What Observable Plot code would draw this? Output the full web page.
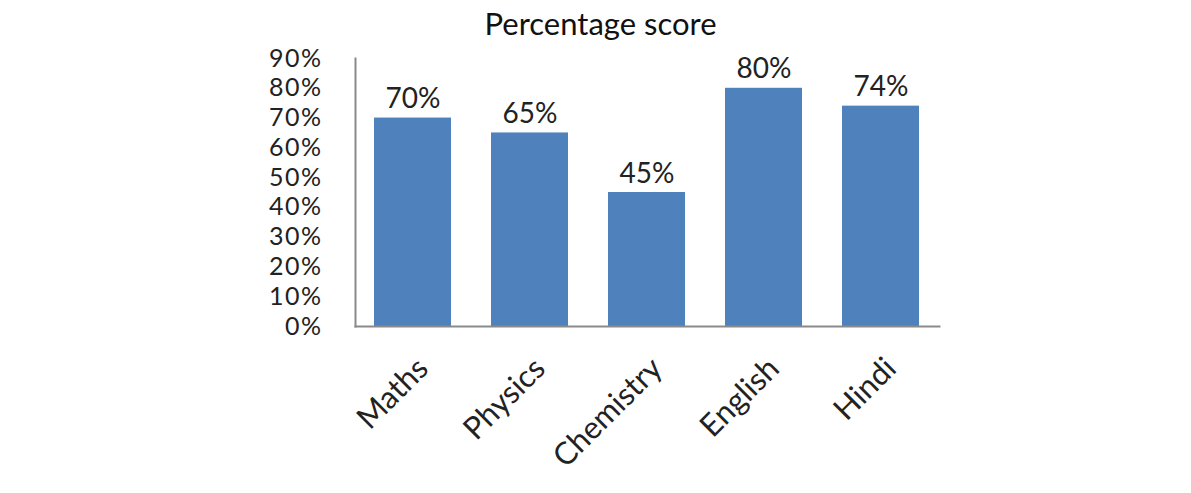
<!DOCTYPE html>
<html>
<head>
<meta charset="utf-8">
<script src="https://cdn.jsdelivr.net/npm/d3@7"></script>
<script src="https://cdn.jsdelivr.net/npm/@observablehq/plot@0.6"></script>
<style>
  html, body { margin: 0; padding: 0; background: #fff; }
  body { width: 1191px; height: 493px; overflow: hidden; font-family: Lato, "Open Sans", sans-serif; }
  #title { height: 40px; line-height: 46px; text-align: center; font-size: 31px; color: #111; padding-left: 10px; }
  .yax text { letter-spacing: 1.5px; }
</style>
</head>
<body>
<div id="title">Percentage score</div>
<div id="chart"></div>
<script>
const subjects = ["Maths", "Physics", "Chemistry", "English", "Hindi"];
const scores = [0.70, 0.65, 0.45, 0.80, 0.74];
const yTicks = [0, 0.1, 0.2, 0.3, 0.4, 0.5, 0.6, 0.7, 0.8, 0.9];

const data = subjects.map((s, i) => ({subject: s, score: scores[i]}));

const chart = Plot.plot({
  width: 1191,
  height: 453,
  marginLeft: 355,
  marginRight: 252,
  marginTop: 18,
  marginBottom: 167,
  style: {fontFamily: "Lato, 'Open Sans', sans-serif", fontSize: "28px", color: "#222", background: "white"},
  x: {domain: subjects, paddingInner: 0.34, paddingOuter: 0.15, label: null},
  y: {domain: [0, 0.9], label: null},
  marks: [
    Plot.barY(data, {x: "subject", y: "score", fill: "#4f81bd"}),
    Plot.text(data, {x: "subject", y: "score", text: d => Math.round(d.score * 100) + "%", dy: -10, lineAnchor: "bottom", fontSize: 28, fill: "#222"}),
    Plot.axisY({ticks: yTicks, tickFormat: d => Math.round(d * 100) + "%", tickSize: 0, tickPadding: 33, fontSize: 25, label: null, className: "yax"}),
    Plot.axisX({tickSize: 0, tickRotate: -45, tickPadding: 22, dx: 10, dy: 15, fontSize: 31, label: null}),
    Plot.frame({anchor: "left", stroke: "#8a8a8a", strokeWidth: 2}),
    Plot.frame({anchor: "bottom", stroke: "#8a8a8a", strokeWidth: 2})
  ]
});
document.getElementById("chart").appendChild(chart);
</script>
</body>
</html>
